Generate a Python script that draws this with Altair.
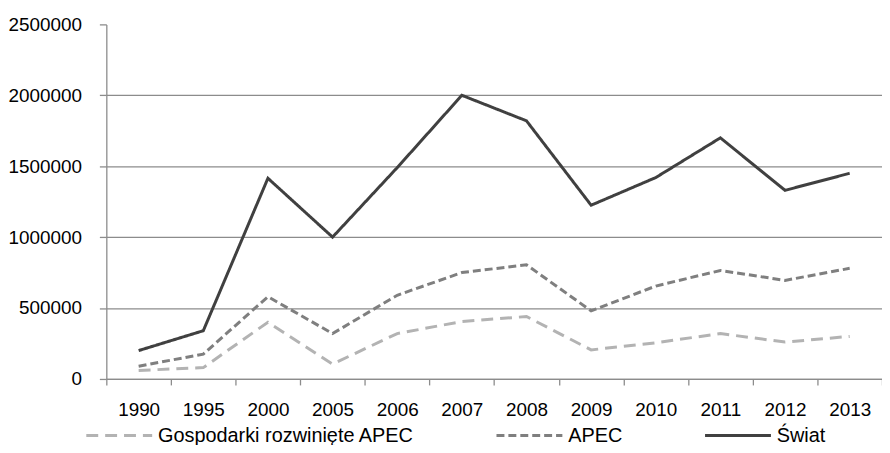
import altair as alt
import pandas as pd

years = ["1990", "1995", "2000", "2005", "2006", "2007", "2008", "2009", "2010", "2011", "2012", "2013"]
swiat = [200000, 340000, 1415000, 1000000, 1490000, 2000000, 1820000, 1225000, 1420000, 1700000, 1330000, 1450000]
apec = [90000, 175000, 580000, 320000, 590000, 750000, 805000, 480000, 655000, 765000, 695000, 780000]
gosp = [60000, 80000, 400000, 105000, 320000, 405000, 440000, 205000, 255000, 320000, 260000, 300000]

series_names = ["Gospodarki rozwinięte APEC", "APEC", "Świat"]
series_colors = ["#b3b3b3", "#7f7f7f", "#404040"]
series_dashes = [[12, 7], [8, 4], [1, 0]]
y_ticks = [0, 500000, 1000000, 1500000, 2000000, 2500000]

rows = []
for name, vals in zip(series_names, [gosp, apec, swiat]):
    for yr, v in zip(years, vals):
        rows.append({"rok": yr, "seria": name, "wartosc": v})
df = pd.DataFrame(rows)

FONT = "Liberation Sans, Arial, sans-serif"
GRID = "#8c8c8c"

legend_args = dict(
    title=None, orient="none", legendX=-22, legendY=379, direction="horizontal",
    symbolType="stroke", symbolSize=4400, symbolStrokeWidth=3,
    labelFont=FONT, labelFontSize=20, labelColor="#000000", labelOffset=4,
    columnPadding=76, padding=0, labelLimit=400,
)

chart = alt.Chart(df).mark_line(strokeWidth=3, strokeCap="butt", strokeJoin="miter").encode(
    x=alt.X(
        "rok:N", sort=years, bandPosition=0.5,
        scale=alt.Scale(type="band", paddingInner=0, paddingOuter=0),
        axis=alt.Axis(
            title=None, labelAngle=0, tickBand="extent", grid=False,
            domainColor=GRID, domainWidth=1.3, tickColor=GRID, tickWidth=1.3, tickSize=6,
            labelFont=FONT, labelFontSize=19, labelColor="#000000", labelPadding=16,
        ),
    ),
    y=alt.Y(
        "wartosc:Q",
        scale=alt.Scale(domain=[0, 2500000], nice=False),
        axis=alt.Axis(
            title=None, values=y_ticks, format="d",
            grid=True, gridColor=GRID, gridWidth=1.3,
            gridOpacity={"condition": {"test": "datum.value >= 2500000", "value": 0}, "value": 1},
            domainColor=GRID, domainWidth=1.3, tickColor=GRID, tickWidth=1.3, tickSize=7,
            labelFont=FONT, labelFontSize=19, labelColor="#000000", labelPadding=18,
        ),
    ),
    color=alt.Color("seria:N", scale=alt.Scale(domain=series_names, range=series_colors),
                    legend=alt.Legend(**legend_args)),
    strokeDash=alt.StrokeDash("seria:N", scale=alt.Scale(domain=series_names, range=series_dashes),
                              legend=alt.Legend(**legend_args)),
).properties(
    width=781, height=357,
    autosize=alt.AutoSizeParams(type="none"),
    padding={"left": 99, "top": 15, "right": 0, "bottom": 65},
    background="white",
).configure_view(stroke=None)

chart.save("out.html", embed_options={"renderer": "svg", "actions": False})
